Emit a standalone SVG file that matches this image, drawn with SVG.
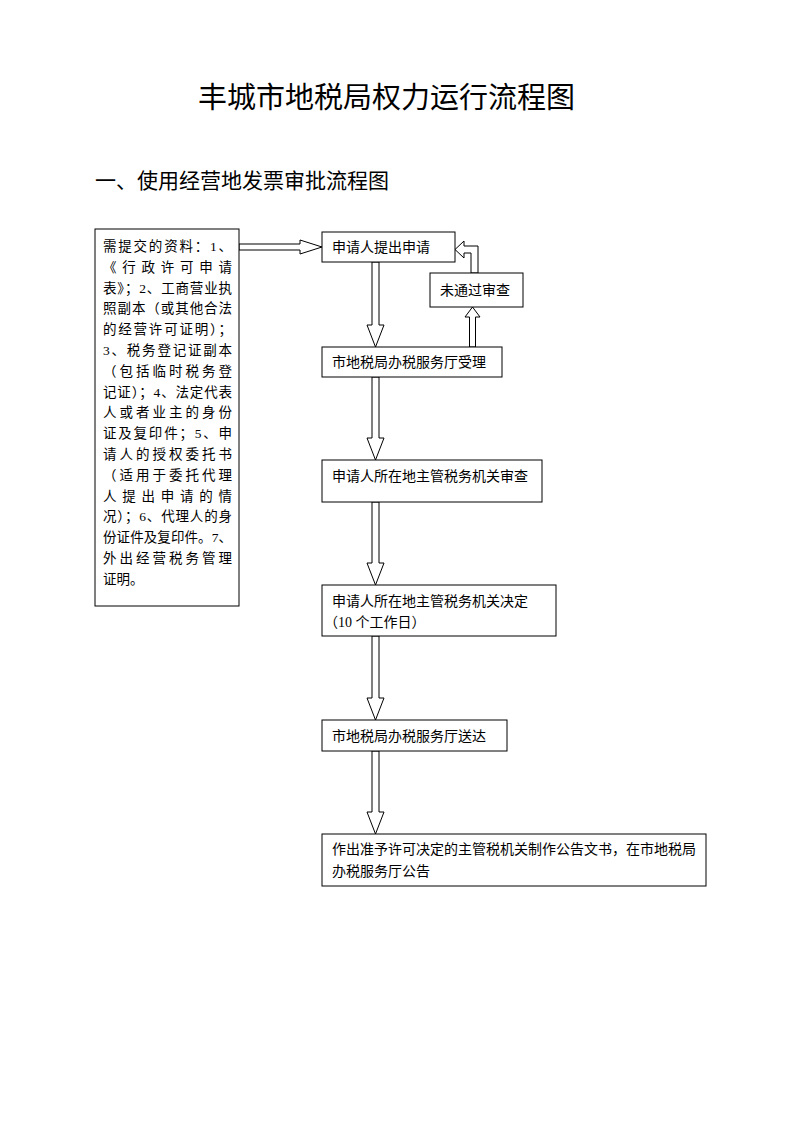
<svg xmlns="http://www.w3.org/2000/svg" width="793" height="1122" viewBox="0 0 793 1122">
<style>
.box{fill:#fff;stroke:#000;stroke-width:1}
.arr{fill:#fff;stroke:#000;stroke-width:1;stroke-linejoin:miter}
.t{font-family:"Liberation Serif","Noto Sans CJK SC",serif;font-size:14px;fill:#000}
.lt{font-family:"Liberation Serif","Noto Sans CJK SC",serif;font-size:13.5px;fill:#000}
.h1{font-family:"Noto Sans CJK SC","Liberation Sans",sans-serif;font-size:29px;fill:#000}
.h2{font-family:"Noto Sans CJK SC","Liberation Sans",sans-serif;font-size:21px;fill:#000}
</style>
<rect width="793" height="1122" fill="#fff"/>
<text class="h1" x="386.5" y="108" text-anchor="middle">丰城市地税局权力运行流程图</text>
<text class="h2" x="95" y="188">一、使用经营地发票审批流程图</text>

<g id="connectors">
  <polygon class="arr" points="239,244 300,244 300,240 322,247 300,254 300,250 239,250"/>
  <polygon class="arr" points="372,262 379,262 379,325 384,325 375.5,347 367,325 372,325"/>
  <polygon class="arr" points="372,377 379,377 379,438 384,438 375.5,460 367,438 372,438"/>
  <polygon class="arr" points="372,502 379,502 379,563 384,563 375.5,585 367,563 372,563"/>
  <polygon class="arr" points="372,636 379,636 379,698 384,698 375.5,720 367,698 372,698"/>
  <polygon class="arr" points="372,751 379,751 379,812 384,812 375.5,834 367,812 372,812"/>
  <polygon class="arr" points="469.5,347 475.5,347 475.5,317 480,317 472.5,307 465,317 469.5,317"/>
  <polygon class="arr" points="471,273 471,253 464,253 464,258 455,249.5 464,241 464,246 478,246 478,273"/>
</g>

<g id="n-materials">
  <rect class="box" x="95" y="229" width="144" height="377"/>
  <text class="lt" x="103" y="251" textLength="129" lengthAdjust="spacing">需提交的资料：1、</text>
  <text class="lt" x="103" y="271.8" textLength="129" lengthAdjust="spacing">《行政许可申请</text>
  <text class="lt" x="103" y="292.6" textLength="129" lengthAdjust="spacing">表》；2、工商营业执</text>
  <text class="lt" x="103" y="313.4" textLength="129" lengthAdjust="spacing">照副本（或其他合法</text>
  <text class="lt" x="103" y="334.2" textLength="129" lengthAdjust="spacing">的经营许可证明）；</text>
  <text class="lt" x="103" y="355" textLength="129" lengthAdjust="spacing">3、税务登记证副本</text>
  <text class="lt" x="103" y="375.8" textLength="129" lengthAdjust="spacing">（包括临时税务登</text>
  <text class="lt" x="103" y="396.6" textLength="129" lengthAdjust="spacing">记证）；4、法定代表</text>
  <text class="lt" x="103" y="417.4" textLength="129" lengthAdjust="spacing">人或者业主的身份</text>
  <text class="lt" x="103" y="438.2" textLength="129" lengthAdjust="spacing">证及复印件；5、申</text>
  <text class="lt" x="103" y="459" textLength="129" lengthAdjust="spacing">请人的授权委托书</text>
  <text class="lt" x="103" y="479.8" textLength="129" lengthAdjust="spacing">（适用于委托代理</text>
  <text class="lt" x="103" y="500.6" textLength="129" lengthAdjust="spacing">人提出申请的情</text>
  <text class="lt" x="103" y="521.4" textLength="129" lengthAdjust="spacing">况）；6、代理人的身</text>
  <text class="lt" x="103" y="542.2" textLength="129" lengthAdjust="spacing">份证件及复印件。7、</text>
  <text class="lt" x="103" y="563" textLength="129" lengthAdjust="spacing">外出经营税务管理</text>
  <text class="lt" x="103" y="583.8">证明。</text>
</g>

<g id="n-apply">
  <rect class="box" x="322" y="232" width="133" height="30"/>
  <text class="t" x="332" y="252">申请人提出申请</text>
</g>
<g id="n-reject">
  <rect class="box" x="430" y="273" width="93" height="34"/>
  <text class="t" x="440" y="295">未通过审查</text>
</g>
<g id="n-accept">
  <rect class="box" x="322" y="347" width="180" height="30"/>
  <text class="t" x="332" y="367">市地税局办税服务厅受理</text>
</g>
<g id="n-review">
  <rect class="box" x="322" y="460" width="220" height="42"/>
  <text class="t" x="332" y="481">申请人所在地主管税务机关审查</text>
</g>
<g id="n-decide">
  <rect class="box" x="322" y="585" width="234" height="51"/>
  <text class="t" x="332" y="606">申请人所在地主管税务机关决定</text>
  <text class="t" x="324" y="627">（10 个工作日）</text>
</g>
<g id="n-deliver">
  <rect class="box" x="322" y="720" width="185" height="31"/>
  <text class="t" x="332" y="741">市地税局办税服务厅送达</text>
</g>
<g id="n-publish">
  <rect class="box" x="322" y="834" width="384" height="52"/>
  <text class="t" x="332" y="854">作出准予许可决定的主管税机关制作公告文书，在市地税局</text>
  <text class="t" x="332" y="876">办税服务厅公告</text>
</g>
</svg>
